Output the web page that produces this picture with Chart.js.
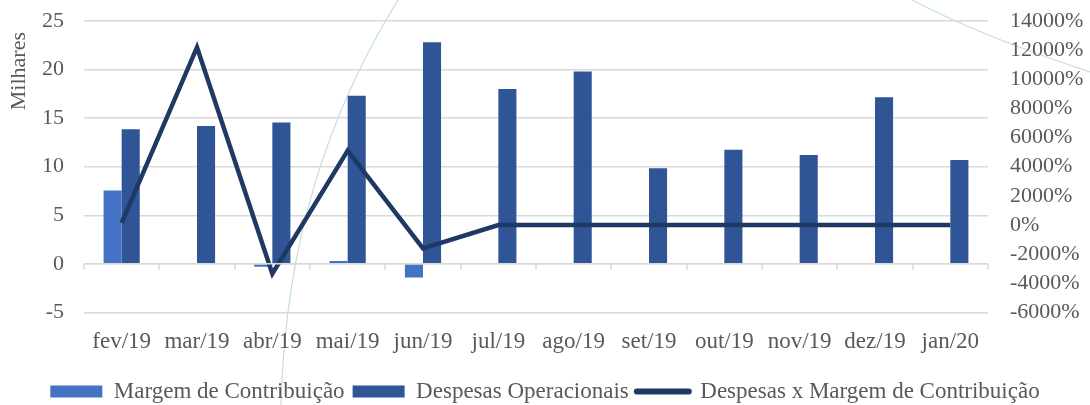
<!DOCTYPE html>
<html>
<head>
<meta charset="utf-8">
<script src="https://cdn.jsdelivr.net/npm/chart.js@4.4.1/dist/chart.umd.min.js"></script>
<style>
    body { margin: 0; background: #fff; }
    #wrap { width: 1090px; height: 405px; }
</style>
</head>
<body>
<div id="wrap"><canvas id="chart" width="1090" height="405"></canvas></div>
<script>
const meses = ['fev/19', 'mar/19', 'abr/19', 'mai/19', 'jun/19', 'jul/19', 'ago/19', 'set/19', 'out/19', 'nov/19', 'dez/19', 'jan/20'];
// valores em milhares
const margemContribuicao = [7.55, 0.05, -0.3, 0.3, -1.4, 0, 0, 0, 0, 0, 0, 0];
const despesasOperacionais = [13.85, 14.2, 14.55, 17.3, 22.8, 18.0, 19.8, 9.85, 11.75, 11.2, 17.15, 10.7];
// relação em %
const despesasXMargem = [150, 12200, -3350, 5100, -1600, 0, 0, 0, 0, 0, 0, 0];

const textColor = '#595959';
const gridColor = '#d9d9d9';
const fontFamily = "'Liberation Serif', 'Times New Roman', serif";

Chart.defaults.font.family = fontFamily;
Chart.defaults.color = textColor;

// curvas decorativas do fundo do slide
const decoracao = {
    id: 'decoracao',
    beforeDraw(chart) {
        const ctx = chart.ctx;
        ctx.save();
        ctx.strokeStyle = 'rgba(120, 185, 180, 0.45)';
        ctx.lineWidth = 1.2;
        ctx.beginPath();
        ctx.moveTo(398, 0);
        ctx.bezierCurveTo(330, 110, 285, 240, 281, 405);
        ctx.stroke();
        ctx.beginPath();
        ctx.moveTo(912, 0);
        ctx.bezierCurveTo(960, 25, 1010, 45, 1090, 72);
        ctx.stroke();
        ctx.restore();
    }
};

// linha do zero com marcas entre as categorias
const eixoZero = {
    id: 'eixoZero',
    afterDatasetsDraw(chart) {
        const ctx = chart.ctx;
        const x = chart.scales.x;
        const y0 = chart.scales.y.getPixelForValue(0);
        ctx.save();
        ctx.strokeStyle = gridColor;
        ctx.lineWidth = 1.5;
        ctx.beginPath();
        ctx.moveTo(x.left, y0);
        ctx.lineTo(x.right, y0);
        const passo = (x.right - x.left) / meses.length;
        for (let i = 0; i <= meses.length; i++) {
            const px = Math.round(x.left + i * passo);
            ctx.moveTo(px, y0);
            ctx.lineTo(px, y0 + 6);
        }
        ctx.stroke();
        ctx.restore();
    }
};

const ordemLegenda = ['Margem de Contribuição', 'Despesas Operacionais', 'Despesas x Margem de Contribuição'];

new Chart(document.getElementById('chart').getContext('2d'), {
    data: {
        labels: meses,
        datasets: [
            {
                type: 'bar',
                label: 'Margem de Contribuição',
                data: margemContribuicao,
                yAxisID: 'y',
                backgroundColor: '#4472c4',
                barPercentage: 1,
                categoryPercentage: 0.48,
                order: 1
            },
            {
                type: 'bar',
                label: 'Despesas Operacionais',
                data: despesasOperacionais,
                yAxisID: 'y',
                backgroundColor: '#2f5597',
                barPercentage: 1,
                categoryPercentage: 0.48,
                order: 1
            },
            {
                type: 'line',
                label: 'Despesas x Margem de Contribuição',
                data: despesasXMargem,
                yAxisID: 'y1',
                borderColor: '#1f3864',
                backgroundColor: '#1f3864',
                borderWidth: 4.5,
                pointRadius: 0,
                tension: 0,
                order: 0
            }
        ]
    },
    options: {
        responsive: false,
        animation: false,
        layout: { padding: { top: 21, right: 0, left: 0, bottom: -8 } },
        plugins: {
            tooltip: { enabled: false },
            legend: {
                position: 'bottom',
                labels: {
                    color: textColor,
                    font: { family: fontFamily, size: 23 },
                    usePointStyle: true,
                    pointStyleWidth: 52,
                    boxWidth: 52,
                    boxHeight: 12,
                    padding: 8,
                    generateLabels: chart => {
                        const itens = Chart.defaults.plugins.legend.labels.generateLabels(chart);
                        itens.forEach(item => {
                            const ds = chart.data.datasets[item.datasetIndex];
                            if (ds.type === 'line') {
                                item.pointStyle = 'line';
                                item.lineWidth = 6;
                                item.strokeStyle = ds.borderColor;
                                item.lineCap = 'round';
                            } else {
                                item.pointStyle = 'rect';
                                item.lineWidth = 0;
                                item.strokeStyle = ds.backgroundColor;
                            }
                        });
                        return itens;
                    },
                    sort: (a, b) => ordemLegenda.indexOf(a.text) - ordemLegenda.indexOf(b.text)
                }
            }
        },
        scales: {
            x: {
                grid: { display: false },
                border: { display: false },
                ticks: { color: textColor, font: { family: fontFamily, size: 23 }, padding: 8, maxRotation: 0, autoSkip: false },
                afterFit: s => { s.height += 8; }
            },
            y: {
                position: 'left',
                min: -5,
                max: 25,
                ticks: { stepSize: 5, color: textColor, font: { family: fontFamily, size: 22 }, padding: 20, autoSkip: false },
                grid: { color: gridColor, lineWidth: 1.5, drawTicks: false },
                border: { display: false },
                title: { display: true, text: 'Milhares  ', align: 'end', color: textColor, font: { family: fontFamily, size: 22 }, padding: 6 },
                afterFit: s => { s.width = 84; s.paddingTop = 0; s.paddingBottom = 0; }
            },
            y1: {
                position: 'right',
                min: -6000,
                max: 14000,
                ticks: {
                    stepSize: 2000,
                    color: textColor,
                    font: { family: fontFamily, size: 22 },
                    padding: 22,
                    autoSkip: false,
                    callback: v => v + '%'
                },
                grid: { display: false, drawTicks: false },
                border: { display: false },
                afterFit: s => { s.width = 102; s.paddingTop = 0; s.paddingBottom = 0; }
            }
        }
    },
    plugins: [decoracao, eixoZero]
});
</script>
</body>
</html>
